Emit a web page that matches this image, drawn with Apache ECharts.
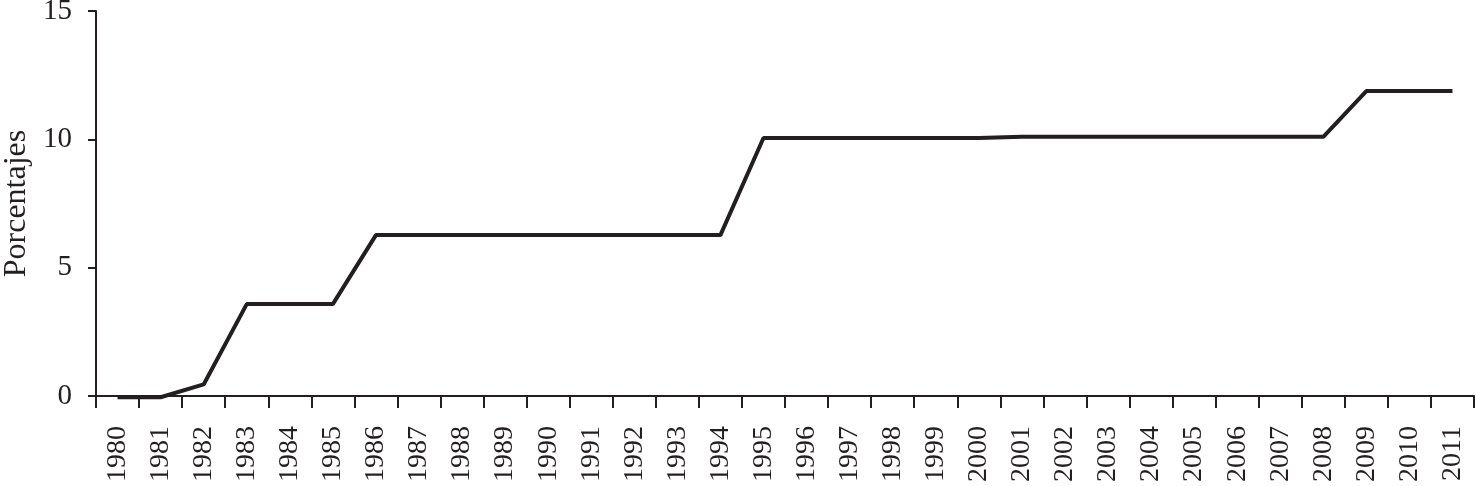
<!DOCTYPE html>
<html>
<head>
<meta charset="utf-8">
<script src="https://cdn.jsdelivr.net/npm/echarts@6/dist/echarts.min.js"></script>
<style>
html,body{margin:0;padding:0;background:#fff;}
#chart{width:1476px;height:486px;}
</style>
</head>
<body>
<div id="chart"></div>
<script>
var years = ['1980','1981','1982','1983','1984','1985','1986','1987','1988','1989','1990','1991','1992','1993','1994','1995','1996','1997','1998','1999','2000','2001','2002','2003','2004','2005','2006','2007','2008','2009','2010','2011'];
var values = [-0.05,-0.05,0.45,3.58,3.58,3.58,6.27,6.27,6.27,6.27,6.27,6.27,6.27,6.27,6.27,10.05,10.05,10.05,10.05,10.05,10.05,10.1,10.1,10.1,10.1,10.1,10.1,10.1,10.1,11.88,11.88,11.88];
var yTicks = [0,5,10,15];
var yName = 'Porcentajes';

var ink = '#231f20';
var font = "'Liberation Serif', 'Times New Roman', serif";
var chart = echarts.init(document.getElementById('chart'));
chart.setOption({
  animation: false,
  backgroundColor: '#fff',
  grid: {left: 96, right: 2, top: 11, bottom: 90, containLabel: false, outerBoundsMode: 'none'},
  xAxis: {
    type: 'category',
    data: years,
    boundaryGap: true,
    axisLine: {show: true, lineStyle: {color: ink, width: 2}},
    axisTick: {show: true, length: 12, lineStyle: {color: ink, width: 2}},
    axisLabel: {rotate: 90, interval: 0, margin: 30, color: ink, fontFamily: font, fontSize: 28}
  },
  yAxis: {
    type: 'value',
    min: yTicks[0],
    max: yTicks[yTicks.length - 1],
    interval: 5,
    name: yName,
    nameLocation: 'middle',
    nameGap: 63,
    nameRotate: 90,
    nameTextStyle: {color: ink, fontFamily: font, fontSize: 32},
    splitLine: {show: false},
    axisLine: {show: true, lineStyle: {color: ink, width: 2}},
    axisTick: {show: true, length: 8, lineStyle: {color: ink, width: 2}},
    axisLabel: {margin: 24, color: ink, fontFamily: font, fontSize: 29}
  },
  series: [{
    type: 'line',
    data: values,
    clip: false,
    symbol: 'none',
    lineStyle: {color: ink, width: 4}
  }]
});
</script>
</body>
</html>
